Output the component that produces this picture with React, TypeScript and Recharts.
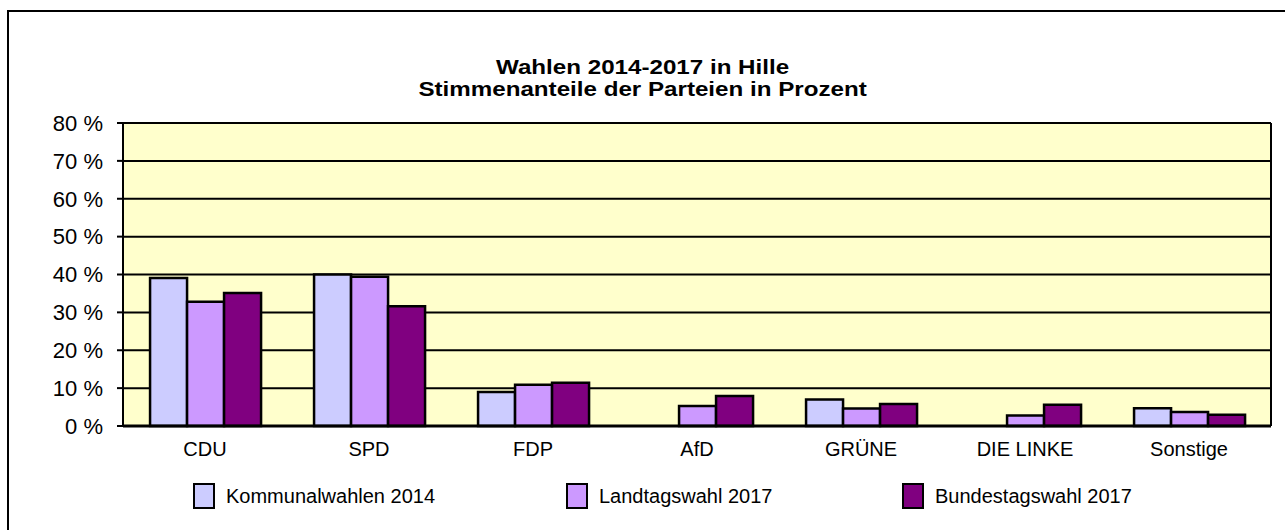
import { Bar, BarChart, CartesianGrid, XAxis, YAxis } from "recharts";

const parties = ["CDU", "SPD", "FDP", "AfD", "GRÜNE", "DIE LINKE", "Sonstige"];
const kommunal2014 = [39.1, 40.0, 9.0, null, 7.0, null, 4.7];
const landtag2017 = [32.8, 39.4, 10.9, 5.3, 4.6, 2.8, 3.7];
const bundestag2017 = [35.1, 31.6, 11.4, 7.9, 5.8, 5.6, 3.0];
const yTicks = [0, 10, 20, 30, 40, 50, 60, 70, 80];

const seriesKeys = ["kommunal", "landtag", "bundestag"];
const seriesNames = ["Kommunalwahlen 2014", "Landtagswahl 2017", "Bundestagswahl 2017"];
const seriesColors = ["#CCCCFF", "#CC99FF", "#800080"];

const data = parties.map((party, i) => ({
  party,
  kommunal: kommunal2014[i],
  landtag: landtag2017[i],
  bundestag: bundestag2017[i],
}));

const font = '"Liberation Sans", Arial, sans-serif';
const legendLeft = [193, 566, 902];

function ChartLegend() {
  return (
    <>
      {seriesNames.map((name, i) => (
        <div
          key={name}
          style={{
            position: "absolute",
            left: legendLeft[i],
            top: 483,
            height: 26,
            display: "flex",
            alignItems: "center",
            whiteSpace: "nowrap",
            fontFamily: font,
            fontSize: 20,
            color: "#000",
          }}
        >
          <span
            style={{
              display: "inline-block",
              width: 18,
              height: 22,
              background: seriesColors[i],
              border: "2px solid #000",
              marginRight: 11,
            }}
          />
          <span>{name}</span>
        </div>
      ))}
    </>
  );
}

export default function App() {
  return (
    <div style={{ position: "absolute", left: 0, top: 0, width: 1285, height: 530, background: "#fff", overflow: "hidden" }}>
      <div
        style={{
          position: "absolute",
          left: 7,
          top: 10,
          width: 1276,
          height: 518,
          borderLeft: "2px solid #000",
          borderTop: "2px solid #000",
        }}
      />
      <div
        style={{
          position: "absolute",
          top: 56,
          left: 0,
          width: 1285,
          textAlign: "center",
          fontFamily: font,
          fontWeight: "bold",
          fontSize: 21,
          lineHeight: "22px",
          color: "#000",
          transform: "scaleX(1.15)",
          transformOrigin: "642px 0",
        }}
      >
        Wahlen 2014-2017 in Hille
        <br />
        Stimmenanteile der Parteien in Prozent
      </div>
      <BarChart
        width={1285}
        height={530}
        data={data}
        margin={{ top: 123, right: 14, bottom: 74, left: 23 }}
        barCategoryGap="16.5%"
        barGap={0}
        style={{ position: "absolute", left: 0, top: 0 }}
      >
        <CartesianGrid
          fill="#FFFFCC"
          fillOpacity={1}
          stroke="#000"
          strokeWidth={2}
          verticalCoordinatesGenerator={({ offset }: any) => [offset.left + offset.width]}
        />
        <XAxis
          dataKey="party"
          tickLine={false}
          axisLine={{ stroke: "#000", strokeWidth: 3 }}
          tick={{ fontSize: 20, fill: "#000", fontFamily: font }}
          tickMargin={10}
          height={30}
        />
        <YAxis
          domain={[0, 80]}
          ticks={yTicks}
          width={100}
          tickFormatter={(v) => `${v} %`}
          axisLine={{ stroke: "#000", strokeWidth: 2 }}
          tickLine={{ stroke: "#000", strokeWidth: 2 }}
          tickSize={6}
          tickMargin={14}
          tick={{ fontSize: 22, fill: "#000", fontFamily: font }}
        />
        {seriesKeys.map((key, i) => (
          <Bar
            key={key}
            dataKey={key}
            name={seriesNames[i]}
            fill={seriesColors[i]}
            stroke="#000"
            strokeWidth={2.5}
            isAnimationActive={false}
          />
        ))}
      </BarChart>
      <ChartLegend />
    </div>
  );
}
